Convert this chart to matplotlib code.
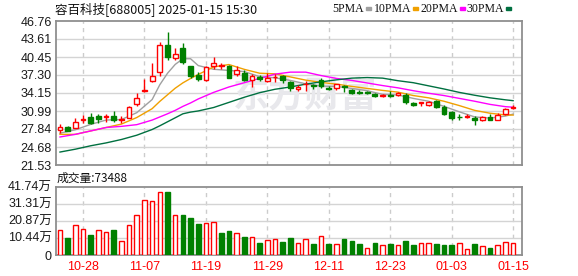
import matplotlib.pyplot as plt
from matplotlib.patches import Rectangle

plt.rcParams['font.family'] = ['Liberation Sans', 'Noto Sans CJK SC', 'DejaVu Sans']

# Header texts
title = "容百科技[688005] 2025-01-15 15:30"
vol_title = "成交量:73488"
ma_names = ["5PMA", "10PMA", "20PMA", "30PMA"]

# Daily candles 2024-10-23 .. 2025-01-15 (60 trading days)
opens = [27.6, 28.24, 28.0, 29.4, 29.98, 30.1, 29.9, 30.1, 29.45, 29.8,
         32.23, 34.45, 36.28, 37.9, 42.64, 40.27, 42.0, 38.88, 37.3, 36.46,
         38.82, 38.96, 38.88, 37.44, 37.73, 36.4, 36.97, 36.28, 36.9, 37.09,
         36.0, 34.9, 35.7, 35.5, 36.4, 35.07, 35.1, 35.3, 34.7, 34.3,
         34.3, 33.98, 33.63, 33.86, 33.8, 33.86, 32.4, 32.35, 32.1, 32.75,
         31.7, 30.82, 30.0, 29.9, 29.8, 29.4, 29.86, 29.5, 30.4, 31.55]
closes = [28.2, 27.55, 29.05, 29.55, 28.88, 29.52, 30.2, 29.46, 29.55, 31.65,
          33.22, 34.6, 37.09, 42.58, 40.44, 41.02, 39.56, 37.15, 36.57, 38.71,
          39.34, 39.08, 36.86, 38.13, 36.46, 37.09, 36.68, 36.86, 37.0, 36.46,
          35.0, 35.25, 35.8, 35.3, 35.35, 34.9, 35.65, 35.2, 34.15, 34.1,
          34.2, 33.63, 33.86, 33.63, 34.2, 32.58, 32.0, 32.5, 32.6, 31.7,
          30.54, 29.72, 29.9, 30.2, 29.5, 29.86, 29.5, 30.33, 31.37, 31.7]
highs = [28.8, 28.42, 29.8, 30.33, 30.67, 30.5, 30.5, 30.96, 30.04, 31.83,
         34.14, 36.57, 39.34, 43.1, 44.78, 42.0, 42.92, 38.9, 37.9, 38.88,
         40.44, 39.45, 39.05, 38.88, 38.13, 37.44, 37.3, 37.73, 37.44, 37.27,
         36.28, 35.6, 36.28, 35.8, 36.74, 35.3, 35.8, 35.5, 34.84, 34.7,
         34.55, 34.15, 34.0, 34.43, 34.4, 34.15, 32.58, 32.55, 32.75, 33.0,
         31.97, 31.0, 30.4, 30.4, 30.04, 30.2, 30.44, 30.6, 31.5, 32.1]
lows = [27.2, 27.44, 28.0, 28.94, 28.77, 28.94, 29.0, 29.1, 28.94, 29.69,
        31.89, 34.4, 36.1, 37.15, 39.92, 39.92, 39.17, 36.86, 36.28, 36.28,
        38.3, 38.3, 36.74, 37.15, 36.28, 35.13, 36.28, 36.0, 36.0, 35.94,
        34.55, 34.55, 34.43, 34.84, 35.07, 34.72, 34.6, 34.3, 33.9, 34.0,
        33.9, 33.45, 33.45, 33.45, 33.7, 32.2, 31.85, 31.9, 31.9, 31.55,
        30.3, 29.5, 29.5, 29.8, 28.5, 29.2, 29.33, 29.33, 30.33, 31.3]

# Volume in 万 and whether the bar is drawn as "up" (red, hollow)
volumes = [15.45, 10.24, 18.46, 16.06, 12.04, 15.45, 14.25, 15.05, 8.83, 18.46,
           24.49, 33.52, 32.91, 38.33, 38.53, 24.49, 24.08, 22.28, 18.67, 19.67,
           20.27, 13.25, 14.45, 13.25, 10.84, 11.24, 7.23, 9.43, 10.04, 7.83,
           10.24, 7.02, 10.04, 6.62, 11.44, 6.62, 6.62, 9.63, 8.43, 6.62,
           4.01, 7.23, 5.82, 6.62, 5.82, 8.43, 6.02, 7.02, 7.02, 6.62,
           6.02, 6.02, 7.02, 3.41, 6.62, 5.22, 4.21, 5.82, 7.63, 7.35]
vol_up = [1, 0, 1, 1, 0, 1, 1, 0, 1, 1, 1, 1, 1, 1, 0, 1, 0, 0, 0, 1,
          1, 0, 0, 1, 0, 1, 0, 1, 1, 0, 0, 1, 1, 0, 1, 0, 1, 0, 0, 0,
          1, 0, 1, 0, 1, 0, 0, 1, 1, 0, 0, 0, 1, 1, 0, 1, 0, 1, 1, 1]

# Moving averages at these candle indices
ma_x = [0, 2, 4, 6, 8, 10, 12, 13, 14, 15, 16, 17, 18, 20, 22, 24, 26, 28, 30,
        32, 34, 36, 38, 40, 42, 44, 46, 48, 50, 52, 54, 56, 58, 59]
ma5 = [27.1, 27.7, 28.65, 29.4, 29.5, 30.7, 33.0, 35.6, 37.6, 39.15, 40.15,
       40.15, 38.95, 38.3, 38.1, 37.9, 37.0, 36.8, 36.35, 35.75, 35.35, 35.3,
       34.95, 34.55, 33.9, 33.8, 33.2, 32.7, 31.8, 30.85, 29.95, 29.75, 30.1, 30.45]
ma10 = [26.9, 26.9, 27.5, 28.1, 28.7, 29.85, 31.4, 32.68, 33.83, 34.98, 35.92,
        36.69, 37.39, 38.71, 39.13, 38.29, 37.61, 37.5, 36.96, 36.4, 36.0, 35.7,
        35.3, 34.95, 34.6, 34.3, 33.7, 33.3, 32.7, 31.94, 31.1, 30.6, 30.3, 30.28]
ma20 = [26.44, 26.9, 27.5, 28.1, 28.3, 28.6, 29.4, 29.95, 30.5, 31.1, 31.8,
        32.4, 33.1, 34.25, 35.2, 35.95, 36.7, 37.45, 37.8, 37.8, 37.2, 36.7,
        36.35, 35.9, 35.45, 35.05, 34.55, 34.1, 33.7, 33.2, 32.7, 32.15, 31.75, 31.65]
ma30 = [23.8, 24.3, 24.9, 25.4, 26.0, 26.75, 27.75, 28.4, 29.1, 29.8, 30.5,
        30.8, 31.0, 31.6, 32.5, 33.4, 34.2, 34.8, 35.2, 35.7, 36.1, 36.45,
        36.75, 36.85, 36.75, 36.3, 35.95, 35.4, 34.85, 34.25, 33.75, 33.3, 32.95, 32.8]

tick_pos = [3, 11, 19, 27, 35, 43, 51, 59]
tick_labels = ["10-28", "11-07", "11-19", "11-29", "12-11", "12-23", "01-03", "01-15"]
price_ticks = [21.53, 24.68, 27.84, 30.99, 34.15, 37.30, 40.45, 43.61, 46.76]
vol_ticks = [0, 10.44, 20.87, 31.31, 41.74]

RED = '#ff0000'
GREEN = '#008000'
ma_colors = ['#a0a0a0', '#f0a000', '#ff00ff', '#007040']

W, H = 578, 276
fig = plt.figure(figsize=(W / 100, H / 100), dpi=100)


def fbox(l, t, r, b):
    return [l / W, 1 - b / H, (r - l) / W, (b - t) / H]


axp = fig.add_axes(fbox(56, 21, 522, 165))
axv = fig.add_axes(fbox(56, 186.5, 522, 255))

for ax in (axp, axv):
    ax.set_xlim(-0.52, 60.16)
    for s in ax.spines.values():
        s.set_color('#8f8f8f')
        s.set_linewidth(1.3)
    for p in tick_pos:
        ax.axvline(p, color='#cccccc', lw=1, ls=(0, (3, 3)), zorder=1)
    ax.tick_params(length=0, pad=3, labelsize=9, labelcolor='#1a1a1a')

# price panel
axp.set_ylim(price_ticks[0], price_ticks[-1])
axp.set_yticks(price_ticks)
axp.set_yticklabels(['%.2f' % v for v in price_ticks])
axp.set_xticks(tick_pos)
axp.set_xticklabels([])
for v in price_ticks[1:-1]:
    axp.axhline(v, color='#d4d4d4', lw=1, zorder=1)

# watermark
axp.text(305 / W, 1 - 96 / H, "东方财富", transform=fig.transFigure,
         fontsize=26, fontweight='bold', color='#e8e8ec', ha='center',
         va='center', family=['Noto Sans CJK SC'], zorder=1.5)

for ma, col in zip([ma5, ma10, ma20, ma30], ma_colors):
    axp.plot(ma_x, ma, color=col, lw=1, zorder=3)

bw = 0.62
for i in range(len(opens)):
    o, c = opens[i], closes[i]
    up = c >= o
    col = RED if up else GREEN
    axp.vlines(i, lows[i], highs[i], color=col, lw=1, zorder=4)
    axp.add_patch(Rectangle((i - bw / 2, min(o, c)), bw, max(abs(c - o), 0.04),
                            facecolor='white' if up else col, edgecolor=col,
                            lw=1, zorder=5))

# volume panel
axv.set_ylim(0, vol_ticks[-1])
axv.set_yticks(vol_ticks)
axv.set_yticklabels(['0'] + ['%.2f万' % v for v in vol_ticks[1:]])
axv.set_xticks(tick_pos)
axv.set_xticklabels(tick_labels, color=RED)
axv.tick_params(axis='x', pad=4)
for v in vol_ticks[1:-1]:
    axv.axhline(v, color='#d4d4d4', lw=1, zorder=1)
for i, v in enumerate(volumes):
    col = RED if vol_up[i] else GREEN
    axv.bar(i, v, width=0.6, facecolor='white' if vol_up[i] else col,
            edgecolor=col, lw=1, zorder=3)

# header texts
fig.text(55 / W, 1 - 9 / H, title, fontsize=9, va='center', ha='left',
         family=['Noto Sans CJK SC'], color='#111111')
fig.text(57 / W, 1 - 178 / H, vol_title, fontsize=8.5, va='center', ha='left',
         family=['Noto Sans CJK SC'], color='#111111')

# legend: label text ends just before its colour mark
mark_x = [366, 413, 460, 506]
for name, mx, col in zip(ma_names, mark_x, ma_colors):
    fig.text((mx - 2) / W, 1 - 8.5 / H, name, fontsize=8.5, va='center',
             ha='right', family=['Liberation Serif'], color='#111111')
    fig.add_artist(Rectangle((mx / W, 1 - 10 / H), 5 / W, 3 / H,
                             transform=fig.transFigure, color=col))

fig.savefig('out.png', dpi=100)
